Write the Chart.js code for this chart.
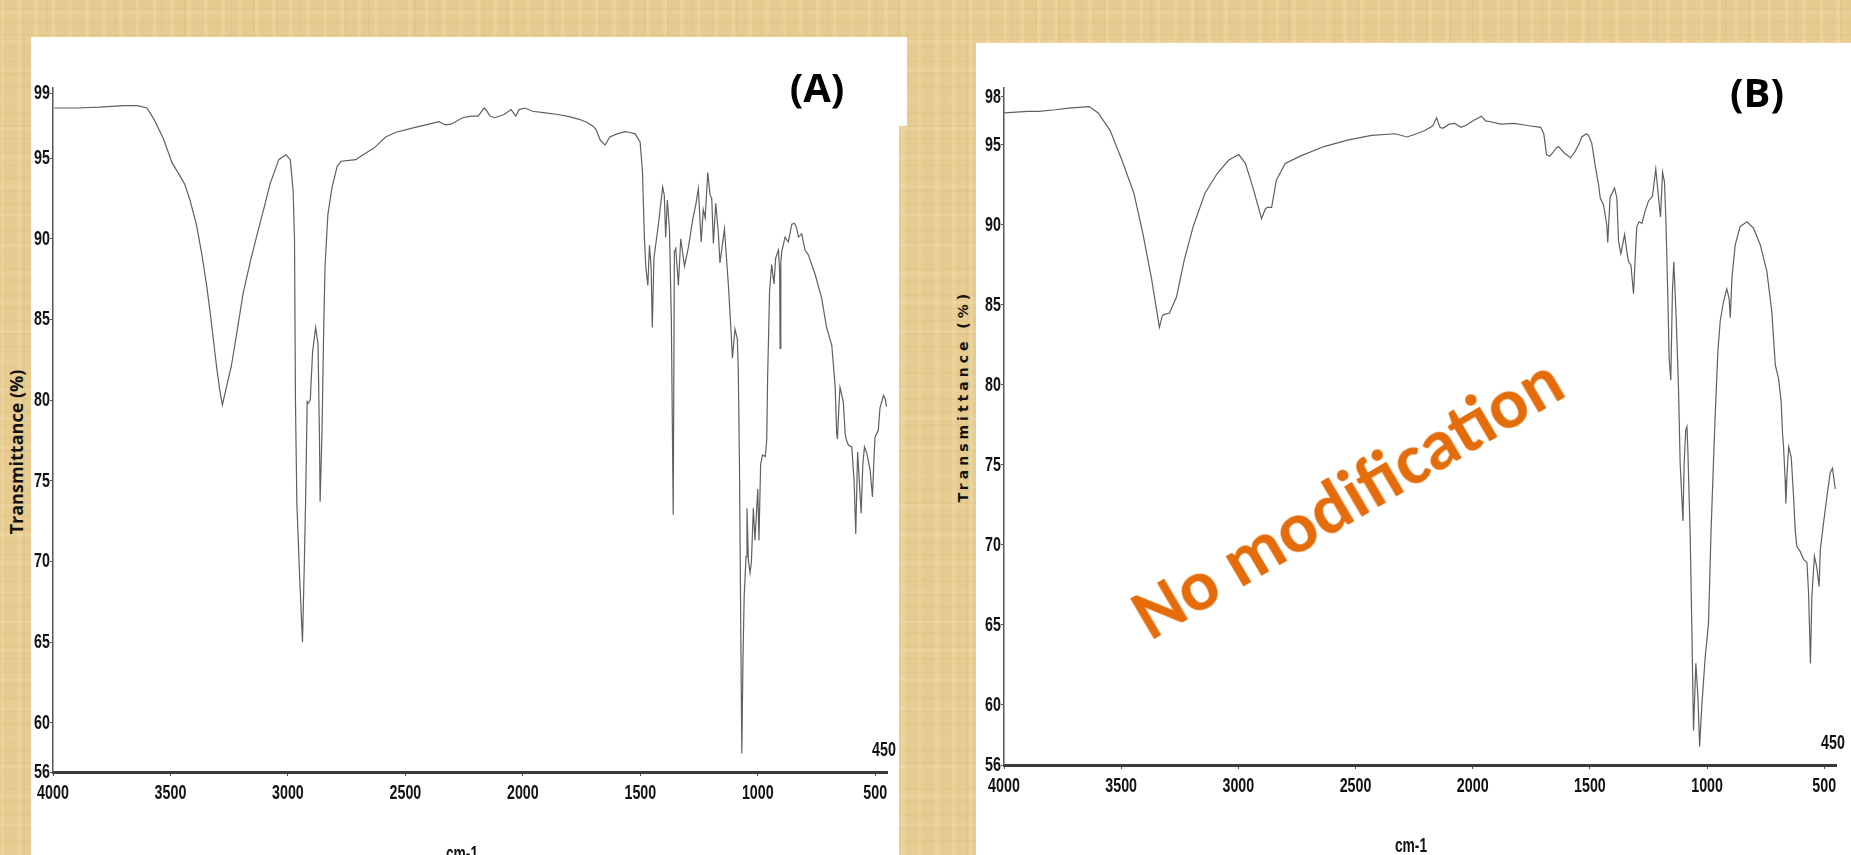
<!DOCTYPE html>
<html>
<head>
<meta charset="utf-8">
<script src="https://cdn.jsdelivr.net/npm/chart.js@4.4.1/dist/chart.umd.min.js"></script>
<style>
  body {
    margin: 0;
    width: 1851px;
    height: 855px;
    overflow: hidden;
    position: relative;
    background-color: #e6cc90;
    background-image:
      repeating-linear-gradient(90deg, rgba(255, 244, 214, 0.16) 0 4px, transparent 4px 17px),
      repeating-linear-gradient(90deg, rgba(190, 150, 80, 0.07) 0 2px, transparent 2px 23px),
      repeating-linear-gradient(0deg, rgba(255, 244, 214, 0.12) 0 3px, transparent 3px 29px),
      repeating-linear-gradient(0deg, rgba(160, 120, 50, 0.05) 0 2px, transparent 2px 13px);
  }
  .panel { position: absolute; background: #fff; }
  .lbl { position: absolute; white-space: nowrap; color: #111; }
  .ytitle { transform: translate(-50%, -50%) rotate(-90deg); font-weight: 700; }
  .xtitle { transform: translateX(-50%) scaleX(0.69); font: bold 20px "Liberation Sans", Arial, sans-serif; }
  .tag { transform: translate(-50%, -50%); font: bold 40px "Open Sans", sans-serif; color: #000; }
</style>
</head>
<body>
<div class="panel" style="left:31px; top:37px; width:868px; height:818px;">
  <canvas id="chartA" width="868" height="818"></canvas>
</div>
<div class="panel" style="left:899px; top:37px; width:8px; height:89px;"></div>
<div class="panel" style="left:976px; top:43px; width:875px; height:812px;">
  <canvas id="chartB" width="875" height="812"></canvas>
</div>

<div class="lbl ytitle" style="left:16px; top:452px; font-family:'Open Sans', sans-serif; font-size:18px;">Transmittance (%)</div>
<div class="lbl ytitle" style="left:963px; top:396px; font-family:'DejaVu Sans', sans-serif; font-size:14px; letter-spacing:4px;">Transmittance (%)</div>
<div class="lbl xtitle" style="left:462px; top:842px;">cm-1</div>
<div class="lbl xtitle" style="left:1411px; top:834px;">cm-1</div>
<div class="lbl tag" style="left:817px; top:86px;">(A)</div>
<div class="lbl tag" style="left:1757px; top:91px;">(B)</div>
<div id="stamp" class="lbl" style="left:1347px; top:497px; color:#e46c0a; font-weight:700; font-family:Carlito, Lato, sans-serif; transform:translate(-50%, -50%) rotate(-30.5deg);">No modification</div>

<script>
// (A) spectrum, wavenumber (cm-1) / transmittance (%)
const waveA = [3995, 3900, 3800, 3700, 3640, 3600, 3570, 3530, 3493, 3468, 3440, 3417, 3390, 3367, 3345, 3329, 3304, 3290, 3279, 3265,
  3241, 3215, 3191, 3160, 3127, 3100, 3076, 3039, 3008, 2990, 2978, 2972, 2968, 2962, 2950, 2938, 2930, 2925, 2918, 2914,
  2905, 2895, 2882, 2872, 2866, 2863, 2855, 2847, 2842, 2830, 2812, 2790, 2774, 2740, 2711, 2680, 2635, 2584, 2540, 2459,
  2400, 2357, 2330, 2306, 2256, 2220, 2190, 2165, 2156, 2140, 2120, 2080, 2050, 2030, 2016, 1990, 1960, 1903, 1850, 1803,
  1760, 1726, 1700, 1688, 1670, 1650, 1630, 1599, 1565, 1549, 1522, 1501, 1491, 1483, 1477, 1468, 1461, 1454, 1449, 1442,
  1423, 1405, 1398, 1392, 1385, 1376, 1368, 1360, 1355, 1349, 1338, 1328, 1312, 1295, 1277, 1264, 1253, 1241, 1232, 1224,
  1213, 1203, 1196, 1189, 1179, 1168, 1161, 1142, 1125, 1114, 1108, 1097, 1087, 1083, 1078, 1072, 1068, 1063, 1058, 1050,
  1046, 1040, 1033, 1027, 1019, 1012, 1000, 995, 988, 980, 968, 962, 958, 954, 950, 941, 931, 924, 912, 907,
  905, 902, 898, 884, 870, 855, 844, 835, 827, 813, 799, 785, 756, 728, 707, 685, 671, 664, 661, 655,
  650, 642, 636, 628, 622, 614, 600, 590, 583, 575, 566, 560, 553, 546, 536, 522, 512, 505, 501, 487,
  480, 465, 458, 452];
const transA = [98.1, 98.1, 98.15, 98.25, 98.25, 98.1, 97.4, 96.2, 94.7, 94.1, 93.4, 92.4, 90.9, 89.1, 87.0, 85.2, 82.1, 80.6, 79.7, 80.6,
  82.1, 84.4, 86.6, 88.6, 90.5, 92.0, 93.4, 94.9, 95.2, 94.9, 93.0, 90.0, 80.0, 73.6, 69.0, 65.0, 70.0, 73.6, 79.9, 79.8,
  80.0, 83.0, 84.5, 83.5, 78.0, 73.7, 78.0, 85.0, 88.3, 91.5, 93.2, 94.5, 94.8, 94.85, 94.9, 95.2, 95.6, 96.3, 96.6, 96.9,
  97.1, 97.25, 97.05, 97.1, 97.5, 97.6, 97.6, 98.1, 97.98, 97.6, 97.5, 97.7, 98.0, 97.6, 98.0, 98.1, 97.9, 97.8, 97.7, 97.57,
  97.4, 97.2, 96.95, 96.75, 96.1, 95.8, 96.3, 96.5, 96.64, 96.6, 96.5, 96.0, 94.2, 90.2, 88.3, 87.1, 89.6, 88.2, 84.5, 88.8,
  90.9, 93.2, 92.7, 90.1, 92.4, 90.6, 85.0, 72.9, 89.2, 89.4, 87.1, 90.0, 88.3, 89.5, 91.2, 92.1, 93.1, 89.8, 91.8, 91.3,
  94.1, 92.7, 92.5, 89.7, 92.2, 90.4, 88.5, 90.6, 87.1, 84.3, 82.6, 84.4, 83.8, 81.8, 76.0, 65.0, 58.1, 64.0, 67.8, 70.3,
  73.3, 70.1, 69.3, 70.0, 73.3, 71.3, 74.5, 71.3, 76.0, 76.6, 76.5, 77.5, 81.5, 84.0, 86.7, 88.4, 87.2, 88.8, 89.3, 88.0,
  83.2, 88.5, 89.2, 90.1, 89.8, 90.9, 90.96, 90.7, 90.1, 90.3, 89.3, 89.0, 87.8, 86.3, 84.5, 83.4, 80.9, 77.9, 77.6, 79.5,
  80.8, 80.3, 79.9, 77.9, 77.5, 77.2, 77.1, 75.0, 71.7, 76.8, 74.5, 73.0, 76.0, 77.1, 76.7, 75.7, 74.0, 76.5, 77.7, 78.15,
  79.5, 80.3, 80.1, 79.6];

// (B) spectrum, no modification
const waveB = [3999, 3900, 3852, 3780, 3725, 3680, 3636, 3598, 3547, 3497, 3446, 3408, 3370, 3337, 3325, 3319, 3294, 3264, 3231, 3193,
  3142, 3091, 3041, 2998, 2970, 2939, 2901, 2885, 2876, 2858, 2838, 2800, 2736, 2635, 2534, 2432, 2331, 2280, 2240, 2204,
  2170, 2154, 2140, 2128, 2100, 2077, 2050, 2027, 2000, 1963, 1945, 1925, 1880, 1824, 1760, 1710, 1697, 1685, 1672, 1659,
  1645, 1634, 1609, 1583, 1563, 1545, 1535, 1515, 1506, 1492, 1478, 1463, 1456, 1442, 1428, 1424, 1414, 1395, 1385, 1378,
  1368, 1352, 1342, 1335, 1325, 1314, 1304, 1300, 1290, 1278, 1264, 1250, 1233, 1219, 1207, 1199, 1190, 1182, 1176, 1167,
  1162, 1155, 1148, 1142, 1132, 1122, 1115, 1108, 1103, 1098, 1091, 1086, 1082, 1072, 1065, 1058, 1048, 1039, 1032, 1022,
  1008, 994, 983, 973, 966, 954, 944, 930, 916, 906, 901, 894, 880, 859, 830, 802, 773, 745, 724, 709,
  695, 684, 678, 674, 667, 664, 658, 652, 641, 631, 624, 617, 603, 588, 574, 567, 559, 553, 542, 532,
  522, 517, 503, 489, 475, 465, 453];
const transB = [97.0, 97.1, 97.1, 97.2, 97.3, 97.35, 97.4, 97.0, 95.9, 94.06, 92.0, 89.5, 86.6, 83.6, 84.3, 84.4, 84.5, 85.5, 87.8, 89.9,
  92.0, 93.2, 94.06, 94.4, 93.85, 92.4, 90.4, 91.0, 91.1, 91.1, 92.8, 93.85, 94.3, 94.9, 95.3, 95.6, 95.7, 95.5, 95.7, 95.9,
  96.2, 96.7, 96.1, 96.04, 96.3, 96.35, 96.1, 96.25, 96.5, 96.8, 96.5, 96.45, 96.3, 96.35, 96.2, 96.1, 95.7, 94.4, 94.3, 94.5,
  94.8, 94.9, 94.5, 94.2, 94.6, 95.1, 95.5, 95.7, 95.6, 95.1, 93.75, 92.5, 91.7, 91.25, 90.0, 88.9, 91.7, 92.3, 91.7, 89.0,
  88.2, 89.4, 88.3, 87.7, 87.5, 85.7, 88.75, 89.9, 90.2, 90.1, 90.9, 91.5, 91.8, 93.5, 91.7, 90.5, 93.3, 92.7, 90.4, 85.2,
  81.7, 80.3, 85.8, 87.7, 84.2, 79.8, 75.1, 73.0, 71.5, 75.1, 77.2, 77.4, 75.9, 70.5, 64.7, 58.4, 62.6, 60.5, 57.4, 60.1,
  63.0, 65.1, 70.9, 75.1, 77.9, 82.1, 84.0, 85.2, 86.0, 85.4, 84.2, 86.7, 88.75, 89.9, 90.2, 89.8, 88.75, 87.1, 84.6, 81.25,
  80.4, 78.96, 76.9, 76.2, 74.1, 72.6, 74.7, 76.15, 75.5, 73.0, 70.9, 69.9, 69.6, 69.1, 68.9, 67.0, 62.6, 66.8, 69.3, 68.6,
  67.4, 69.7, 71.4, 73.0, 74.5, 74.8, 73.5];

const xTicks = [4000, 3500, 3000, 2500, 2000, 1500, 1000, 500];
const yTicksA = [56, 60, 65, 70, 75, 80, 85, 90, 95, 99];
const yTicksB = [56, 60, 65, 70, 75, 80, 85, 90, 95, 98];

const labelFont = "bold 21px 'Liberation Sans', Arial, sans-serif";

// the scanned labels are a squeezed bold face, so draw them narrowed
function squeezed(ctx, text, x, y, align) {
    ctx.save();
    ctx.translate(x, y);
    ctx.scale(0.68, 1);
    ctx.textAlign = align;
    ctx.textBaseline = "middle";
    ctx.fillText(text, 0, 0);
    ctx.restore();
}

const axisLabels = {
    id: "axisLabels",
    afterDraw(chart, args, opts) {
        const ctx = chart.ctx;
        const xs = chart.scales.x;
        const ys = chart.scales.y;
        ctx.save();
        ctx.font = labelFont;
        ctx.fillStyle = "#111";
        xs.ticks.forEach((t) => squeezed(ctx, String(t.value), xs.getPixelForValue(t.value), xs.top + 21, "center"));
        ys.ticks.forEach((t, i) => squeezed(ctx, String(opts.yLabels[i]), ys.right - 3, ys.getPixelForValue(t.value), "right"));
        // small "450" above the end of the x axis
        squeezed(ctx, "450", xs.getPixelForValue(450) - 3, chart.chartArea.bottom - 22, "center");
        ctx.restore();
    }
};

function makeChart(id, waves, trans, yTicks, yMin, yMax, axisW, axisH, pad) {
    const ctx = document.getElementById(id).getContext("2d");
    return new Chart(ctx, {
        type: "scatter",
        data: {
            datasets: [{
                data: waves.map((w, i) => ({ x: w, y: trans[i] })),
                showLine: true,
                borderColor: "#606060",
                borderWidth: 1.2,
                pointRadius: 0,
                tension: 0
            }]
        },
        options: {
            responsive: false,
            animation: false,
            layout: { padding: pad },
            plugins: {
                legend: { display: false },
                tooltip: { enabled: false },
                axisLabels: { yLabels: yTicks }
            },
            scales: {
                x: {
                    type: "linear",
                    reverse: true,
                    min: 450,
                    max: 4000,
                    afterBuildTicks: (axis) => { axis.ticks = xTicks.map(v => ({ value: v })); },
                    afterFit: (scale) => { scale.height = axisH; },
                    border: { display: true, color: "#3a3a3a", width: 3 },
                    grid: { drawOnChartArea: false, drawTicks: true, tickLength: 4, color: "#555" },
                    ticks: { display: false }
                },
                y: {
                    min: yMin,
                    max: yMax,
                    afterBuildTicks: (axis) => {
                        axis.ticks = yTicks.map(v => ({ value: Math.min(Math.max(v, axis.min), axis.max) }));
                    },
                    afterFit: (scale) => { scale.width = axisW; },
                    border: { display: true, color: "#555", width: 1.5 },
                    grid: { drawOnChartArea: false, drawTicks: true, tickLength: 3, color: "#555" },
                    ticks: { display: false }
                }
            }
        },
        plugins: [axisLabels]
    });
}

makeChart("chartA", waveA, transA, yTicksA, 56.96, 99.34, 22, 83, { left: 0, top: 51, right: 12, bottom: 0 });
makeChart("chartB", waveB, transB, yTicksB, 56.25, 98.56, 28, 90, { left: 0, top: 45, right: 15, bottom: 0 });

// fit the orange stamp to its width in the picture
const stamp = document.getElementById("stamp");
const probe = document.createElement("canvas").getContext("2d");
probe.font = "bold 100px Carlito, Lato, sans-serif";
stamp.style.fontSize = (485 / probe.measureText("No modification").width * 100).toFixed(1) + "px";
</script>
</body>
</html>
